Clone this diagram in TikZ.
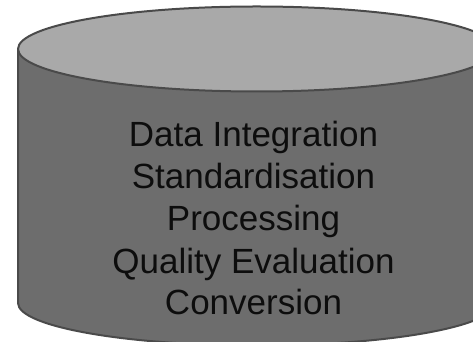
\documentclass[tikz,border=0pt]{standalone}
\usepackage{fontspec}
\setmainfont{Liberation Sans}
\definecolor{drumbody}{HTML}{6D6D6D}
\definecolor{drumtop}{HTML}{A9A9A9}
\definecolor{drumline}{HTML}{4A4A4A}
\definecolor{inktext}{HTML}{0D0D0D}
\begin{document}
\begin{tikzpicture}[x=1pt,y=1pt,
  drumedge/.style={draw=drumline, line width=2pt, line join=round},
  stageline/.style={anchor=base, inner sep=0pt, text=inktext,
    font=\fontsize{35}{42}\selectfont}]
\useasboundingbox (0,0) rectangle (473,342);
\clip (0,0) rectangle (473,342);
% drum body: side walls and the lower rim
\path[drumedge, fill=drumbody]
  (18,293) -- (18,39)
  arc[start angle=180, end angle=360, x radius=238.6, y radius=42.5]
  -- (495.2,293) -- cycle;
% drum lid
\path[drumedge, fill=drumtop]
  (256.6,293) ellipse[x radius=238.6, y radius=42.5];
% stage list
\node[stageline] (s1) at (253.5,195) {Data Integration};
\node[stageline] (s2) at (253.5,153) {Standardisation};
\node[stageline] (s3) at (253.5,111) {Processing};
\node[stageline] (s4) at (253.5,68) {Quality Evaluation};
\node[stageline] (s5) at (253.5,27) {Conversion};
\end{tikzpicture}
\end{document}
